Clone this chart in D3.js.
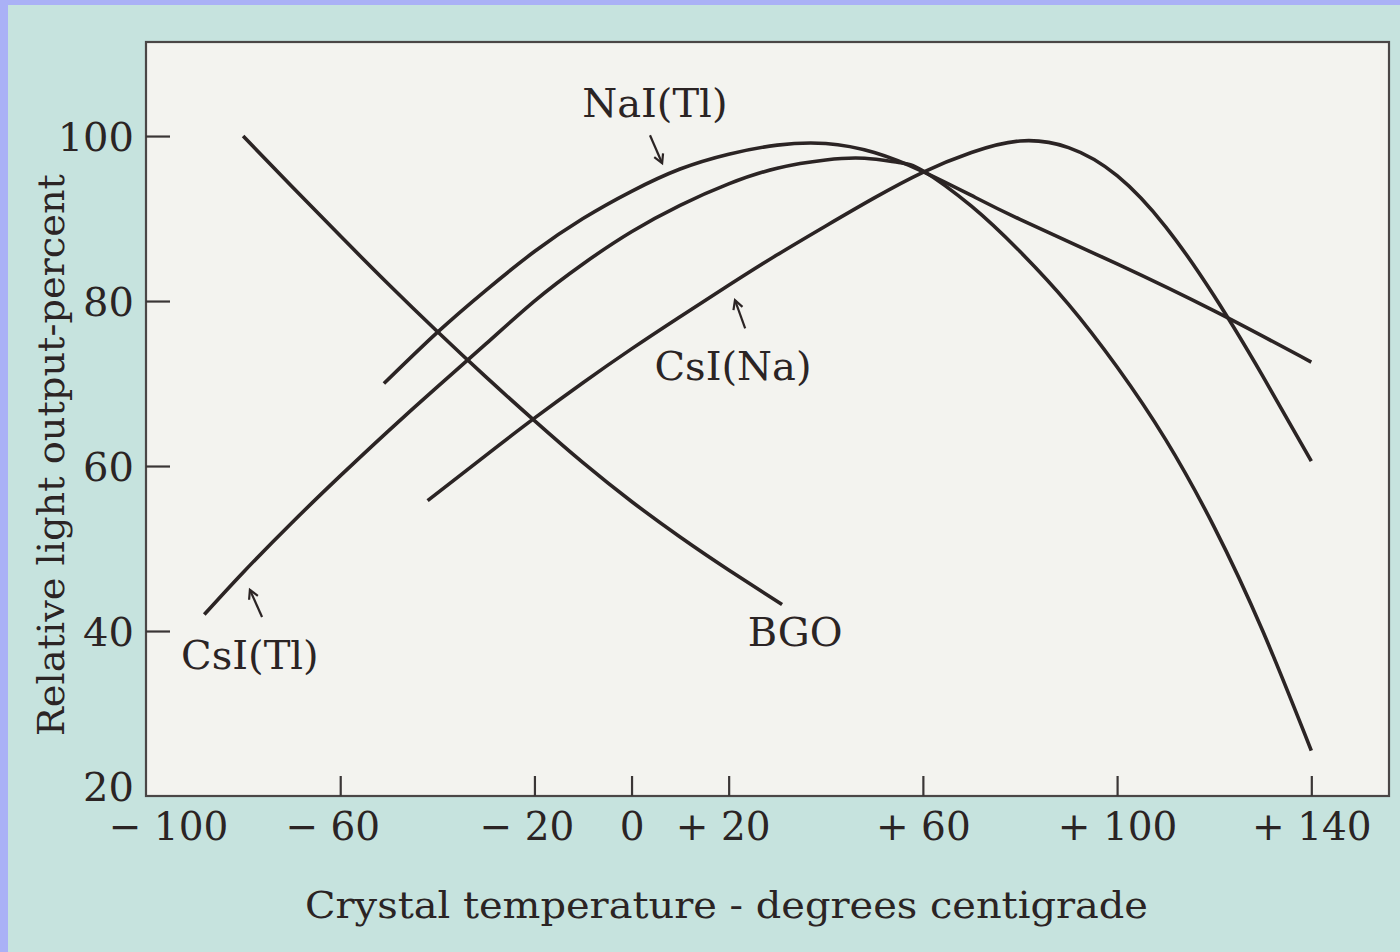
<!DOCTYPE html>
<html>
<head>
<meta charset="utf-8">
<script src="https://cdn.jsdelivr.net/npm/d3@7"></script>
<style>
  html, body { margin: 0; padding: 0; background: #aab1f6; }
  svg { display: block; }
</style>
</head>
<body>
<svg id="chart" width="1400" height="952"></svg>
<script>
// Relative scintillation light output vs crystal temperature (°C)
const xTicks = [-100, -60, -20, 0, 20, 60, 100, 140];
const yTicks = [20, 40, 60, 80, 100];

const naiTemp  = [-51, -40, -30, -20, -10, 0, 10, 20, 30, 40, 50, 60, 70, 80, 100, 120, 140];
const naiLight = [70, 76.2, 81.3, 86.0, 90.0, 93.3, 96.0, 97.8, 98.9, 99.1, 98.0, 95.7, 92.8, 89.9, 84.5, 78.8, 72.6];

const csiTlTemp  = [-88, -80, -70, -60, -50, -40, -30, -20, -10, 0, 10, 20, 30, 40, 48, 55, 60, 70, 80, 90, 100, 110, 120, 130, 140];
const csiTlLight = [42, 47.1, 53.1, 58.8, 64.3, 69.6, 74.8, 80.0, 84.5, 88.4, 91.6, 94.2, 96.1, 97.1, 97.3, 96.8, 95.8, 91.5, 86.0, 79.6, 72.0, 63.2, 52.6, 40.0, 25.5];

const csiNaTemp  = [-42, -30, -20, -10, 0, 10, 20, 30, 40, 50, 60, 70, 80, 90, 100, 110, 120, 130, 140];
const csiNaLight = [55.8, 61.3, 65.8, 70.1, 74.2, 78.1, 81.9, 85.6, 89.1, 92.5, 95.6, 98.0, 99.4, 98.6, 95.2, 89.0, 80.6, 70.9, 60.6];

const bgoTemp  = [-80, -70, -60, -50, -40, -30, -20, -10, 0, 10, 20, 31];
const bgoLight = [100, 93.9, 87.9, 82.0, 76.3, 70.8, 65.5, 60.4, 55.7, 51.4, 47.4, 43.2];

const seriesNames = ["NaI(Tl)", "CsI(Tl)", "CsI(Na)", "BGO"];
const seriesTemp  = [naiTemp, csiTlTemp, csiNaTemp, bgoTemp];
const seriesLight = [naiLight, csiTlLight, csiNaLight, bgoLight];

// label anchors (temperature, light) and pointer arrows (tail, tip)
const labelTemp  = [4.8, -78.6, 20.9, 33.7];
const labelLight = [104.0, 37.1, 72.2, 39.9];
const arrowTail  = [[3.8, 100.1], [-76.1, 41.7], [23.4, 76.7], null];
const arrowTip   = [[6.3, 96.7], [-78.6, 45.0], [21.3, 80.1], null];

const xTitle = "Crystal temperature - degrees centigrade";
const yTitle = "Relative light output-percent";

const INK = "#2b2424";
const FONT = "'DejaVu Serif', 'Liberation Serif', serif";

const svg = d3.select("#chart");

// backdrop: blue frame, mint card, paper plot area
svg.append("rect").attr("x", 0).attr("y", 0).attr("width", 1400).attr("height", 952).attr("fill", "#aab1f6");
svg.append("rect").attr("x", 8).attr("y", 5).attr("width", 1392).attr("height", 947).attr("fill", "#c6e3de");

const x = d3.scaleLinear().domain([-100, 156]).range([146, 1389]);
const y = d3.scaleLinear().domain([20, 111.4]).range([796, 42]);

const [x0, x1] = x.range();
const [yb, yt] = y.range();

svg.append("rect")
  .attr("x", x0).attr("y", yt).attr("width", x1 - x0).attr("height", yb - yt)
  .attr("fill", "#f3f3ef").attr("stroke", "#4a4646").attr("stroke-width", 2.2);

function tickText(v) {
  if (v < 0) return "\u2212 " + Math.abs(v);
  if (v > 0) return "+ " + v;
  return "0";
}

// x axis: ticks point inward
const xAxis = d3.axisBottom(x)
  .tickValues(xTicks)
  .tickSizeInner(-20)
  .tickSizeOuter(0)
  .tickPadding(14)
  .tickFormat(tickText);

const gx = svg.append("g").attr("transform", `translate(0,${yb})`).call(xAxis);
gx.select(".domain").remove();
gx.selectAll(".tick line").attr("stroke", "#3a3636").attr("stroke-width", 2.2)
  .filter(d => d === -100).remove();
gx.selectAll(".tick text")
  .attr("font-family", FONT).attr("font-size", 39).attr("fill", INK)
  .attr("dy", "0.78em")
  .attr("dx", d => d === -100 ? 22 : (d < 0 ? -8 : (d === 20 ? -6 : 0)));

// y axis: ticks point inward
const yAxis = d3.axisLeft(y)
  .tickValues(yTicks)
  .tickSizeInner(-24)
  .tickSizeOuter(0)
  .tickPadding(12)
  .tickFormat(d => d);

const gy = svg.append("g").attr("transform", `translate(${x0},0)`).call(yAxis);
gy.select(".domain").remove();
gy.selectAll(".tick line").attr("stroke", "#3a3636").attr("stroke-width", 2.2)
  .filter(d => d === 20).remove();
gy.selectAll(".tick text")
  .attr("font-family", FONT).attr("font-size", 40).attr("fill", INK)
  .attr("dy", d => d === 20 ? "0.12em" : "0.36em");

// axis titles
svg.append("text")
  .attr("x", (305 + 1148) / 2).attr("y", 918)
  .attr("text-anchor", "middle")
  .attr("font-family", FONT).attr("font-size", 38).attr("fill", INK)
  .attr("textLength", 843).attr("lengthAdjust", "spacingAndGlyphs")
  .text(xTitle);

svg.append("text")
  .attr("transform", "translate(64,455) rotate(-90)")
  .attr("text-anchor", "middle")
  .attr("font-family", FONT).attr("font-size", 38).attr("fill", INK)
  .attr("textLength", 562).attr("lengthAdjust", "spacingAndGlyphs")
  .text(yTitle);

// curves
const line = d3.line()
  .x(d => x(d[0]))
  .y(d => y(d[1]))
  .curve(d3.curveNatural);

seriesNames.forEach((name, i) => {
  const pts = seriesTemp[i].map((t, j) => [t, seriesLight[i][j]]);
  svg.append("path")
    .datum(pts)
    .attr("d", line)
    .attr("fill", "none")
    .attr("stroke", INK)
    .attr("stroke-width", 3.6)
    .attr("stroke-linecap", "butt");
});

// series labels with pointer arrows
seriesNames.forEach((name, i) => {
  svg.append("text")
    .attr("x", x(labelTemp[i])).attr("y", y(labelLight[i]))
    .attr("text-anchor", "middle")
    .attr("dy", "0.36em")
    .attr("font-family", FONT).attr("font-size", 40).attr("fill", INK)
    .text(name);
  if (arrowTail[i]) {
    const a = arrowTail[i], b = arrowTip[i];
    const ax = x(a[0]), ay = y(a[1]), bx = x(b[0]), by = y(b[1]);
    svg.append("line")
      .attr("x1", ax).attr("y1", ay).attr("x2", bx).attr("y2", by)
      .attr("stroke", INK).attr("stroke-width", 2.2);
    const ang = Math.atan2(by - ay, bx - ax);
    const h = 10, spread = 0.5;
    const p1 = [bx - h * Math.cos(ang - spread), by - h * Math.sin(ang - spread)];
    const p2 = [bx - h * Math.cos(ang + spread), by - h * Math.sin(ang + spread)];
    svg.append("path")
      .attr("d", `M${p1[0]},${p1[1]}L${bx},${by}L${p2[0]},${p2[1]}`)
      .attr("fill", "none").attr("stroke", INK).attr("stroke-width", 2.2);
  }
});
</script>
</body>
</html>
